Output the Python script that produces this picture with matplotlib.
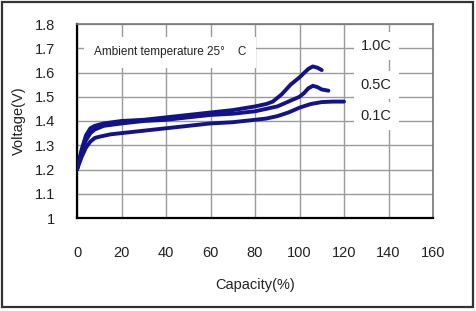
import matplotlib.pyplot as plt
from matplotlib.patches import Rectangle

plt.rcParams['font.family'] = ['Liberation Sans', 'DejaVu Sans']

# discharge-like curves
cap_10 = [0, 2, 4, 6, 8, 12, 20, 30, 40, 50, 60, 70, 80, 85, 88, 92, 96, 100, 104, 106, 108, 110]
v_10 = [1.20, 1.28, 1.34, 1.37, 1.38, 1.39, 1.40, 1.405, 1.415, 1.425, 1.435, 1.445, 1.46, 1.47,
        1.48, 1.51, 1.55, 1.58, 1.615, 1.625, 1.62, 1.61]

cap_05 = [0, 2, 4, 6, 8, 12, 20, 30, 40, 50, 60, 70, 80, 85, 90, 95, 100, 102, 104, 106, 108, 110, 113]
v_05 = [1.20, 1.27, 1.32, 1.35, 1.365, 1.38, 1.39, 1.40, 1.405, 1.415, 1.425, 1.43, 1.44, 1.45,
        1.46, 1.48, 1.50, 1.515, 1.535, 1.545, 1.54, 1.53, 1.525]

cap_01 = [0, 2, 4, 6, 8, 10, 15, 20, 30, 40, 50, 60, 70, 80, 85, 90, 95, 100, 105, 110, 115, 120]
v_01 = [1.20, 1.25, 1.29, 1.315, 1.33, 1.335, 1.345, 1.35, 1.36, 1.37, 1.38, 1.39, 1.395, 1.405,
        1.41, 1.42, 1.435, 1.455, 1.47, 1.478, 1.48, 1.48]

rate_labels = ['1.0C', '0.5C', '0.1C']
rate_label_y = [1.71, 1.55, 1.42]

x_ticks = [0, 20, 40, 60, 80, 100, 120, 140, 160]
y_ticks = [1.0, 1.1, 1.2, 1.3, 1.4, 1.5, 1.6, 1.7, 1.8]
y_tick_labels = ['1', '1.1', '1.2', '1.3', '1.4', '1.5', '1.6', '1.7', '1.8']

fig = plt.figure(figsize=(4.77, 3.11), dpi=100)
ax = fig.add_axes([77 / 477, 1 - 218 / 311, 356 / 477, 194 / 311])

navy = '#12128a'
for c, v in [(cap_10, v_10), (cap_05, v_05), (cap_01, v_01)]:
    ax.plot(c, v, color=navy, lw=2.8, solid_capstyle='round', zorder=3)

ax.set_xlim(0, 160)
ax.set_ylim(1.0, 1.8)
ax.set_xticks(x_ticks)
ax.set_yticks(y_ticks)
ax.set_yticklabels(y_tick_labels)
ax.grid(True, color='#9a9a9a', lw=1.0)
ax.set_axisbelow(True)
ax.tick_params(length=0, labelsize=10.5, colors='#222222')
ax.tick_params(axis='x', pad=20)
ax.tick_params(axis='y', pad=16)

for s in ['left', 'bottom']:
    ax.spines[s].set_color('black')
    ax.spines[s].set_linewidth(1.6)
for s in ['top', 'right']:
    ax.spines[s].set_color('#777777')
    ax.spines[s].set_linewidth(1.2)

ax.set_xlabel('Capacity(%)', fontsize=10.5, labelpad=13, color='#222222')
ax.set_ylabel('Voltage(V)', fontsize=10.5, labelpad=6, color='#222222')

ax.text(7.5, 1.683, 'Ambient temperature 25°    C', fontsize=8.5, va='center', ha='left',
        color='#222222', zorder=4,
        bbox=dict(facecolor='white', edgecolor='none', pad=7))

for lab, yy in zip(rate_labels, rate_label_y):
    ax.text(134.5, yy, lab, fontsize=10.5, va='center', ha='center', color='#222222', zorder=4,
            bbox=dict(facecolor='white', edgecolor='none', pad=5))

# outer frame
fig.patches.append(Rectangle((1.5 / 477, 4 / 311), 472 / 477, 305 / 311,
                             transform=fig.transFigure, fill=False,
                             edgecolor='#333333', lw=1.6))

fig.savefig('out.png', dpi=100)
